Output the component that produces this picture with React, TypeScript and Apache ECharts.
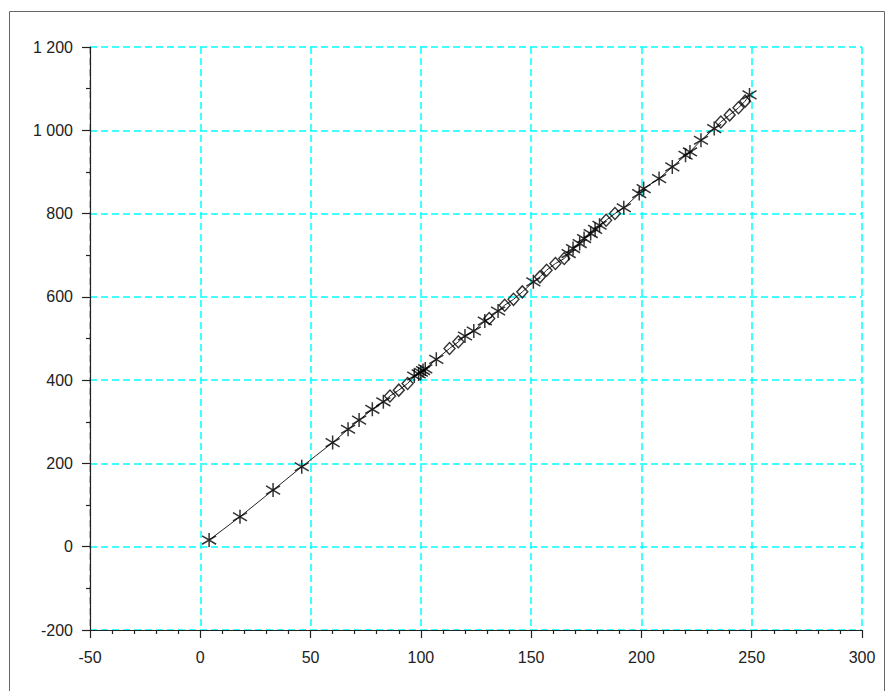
import React, { useEffect, useRef } from "react";
import * as echarts from "echarts";

// Asterisk-marked points
const starX = [4, 18, 33, 46, 60, 67, 72, 78, 83, 97, 99, 100, 101, 102, 107, 120, 124, 129, 135, 151, 167, 169, 172, 174, 177, 179, 181, 192, 199, 201, 208, 214, 220, 222, 227, 233, 249];
const starY = [16, 72, 136, 192, 250, 282, 304, 330, 348, 410, 415, 419, 423, 427, 450, 506, 518, 542, 566, 636, 704, 716, 728, 740, 752, 762, 772, 814, 848, 860, 884, 912, 940, 948, 976, 1004, 1085];

// Diamond-marked points
const diaX = [86, 90, 94, 113, 117, 131, 138, 142, 146, 154, 157, 161, 165, 184, 188, 236, 240, 244, 247];
const diaY = [362, 376, 392, 476, 492, 548, 580, 594, 612, 648, 664, 680, 692, 784, 800, 1020, 1037, 1054, 1070];

const xTicks = { min: -50, max: 300, interval: 50 };
const yTicks = { min: -200, max: 1200, interval: 200 };

const STAR = "path://M5,0 L5,10 M0,2 L10,8 M0,8 L10,2";

export default function App() {
  const ref = useRef<HTMLDivElement>(null);
  useEffect(() => {
    if (!ref.current) return;
    const chart = echarts.init(ref.current, null, { renderer: "svg" });
    const stars = starX.map((x, i) => [x, starY[i]]);
    const dias = diaX.map((x, i) => [x, diaY[i]]);
    const all = [...stars, ...dias].sort((a, b) => a[0] - b[0] || a[1] - b[1]);
    const font = { fontFamily: "Liberation Sans, Arial, sans-serif", fontSize: 16, color: "#222" };
    const split = {
      show: true,
      lineStyle: { color: "#00FFFF", type: [7, 4], width: 1.5, opacity: 1 },
    };
    chart.setOption({
      animation: false,
      backgroundColor: "#fff",
      grid: { left: 90, right: 29, top: 47, bottom: 61, containLabel: false, outerBoundsMode: "none" },
      graphic: [
        {
          type: "rect",
          shape: { x: 9.5, y: 11.5, width: 875, height: 690 },
          style: { fill: "none", stroke: "#666", lineWidth: 1 },
          silent: true,
        },
      ],
      xAxis: {
        type: "value",
        ...xTicks,
        axisLine: { show: true, onZero: false, lineStyle: { color: "#222", width: 1.2 } },
        axisTick: { show: true, length: 8, lineStyle: { color: "#222", width: 1.2 } },
        minorTick: { show: true, splitNumber: 5, length: 4, lineStyle: { color: "#222", width: 1.2 } },
        splitLine: split,
        minorSplitLine: { show: false },
        axisLabel: { ...font, margin: 19, showMinLabel: true, showMaxLabel: true },
      },
      yAxis: {
        type: "value",
        ...yTicks,
        axisLine: { show: true, onZero: false, lineStyle: { color: "#222", width: 1.2 } },
        axisTick: { show: true, length: 8, lineStyle: { color: "#222", width: 1.2 } },
        minorTick: { show: true, splitNumber: 2, length: 4, lineStyle: { color: "#222", width: 1.2 } },
        splitLine: split,
        minorSplitLine: { show: false },
        axisLabel: {
          ...font,
          margin: 17,
          formatter: (v: number) => String(v).replace(/\B(?=(\d{3})+(?!\d))/g, " "),
        },
      },
      series: [
        {
          type: "line",
          data: all,
          showSymbol: false,
          symbol: "none",
          lineStyle: { color: "#222", width: 1 },
          z: 2,
        },
        {
          type: "scatter",
          data: dias,
          symbol: "diamond",
          symbolSize: [11, 12],
          itemStyle: { color: "rgba(0,0,0,0)", borderColor: "#000", borderWidth: 1.4 },
          z: 3,
        },
        {
          type: "scatter",
          data: stars,
          symbol: STAR,
          symbolSize: [14, 14],
          itemStyle: { color: "rgba(0,0,0,0)", borderColor: "#000", borderWidth: 1.5 },
          z: 4,
        },
      ],
    });
    return () => chart.dispose();
  }, []);
  return (
    <div
      ref={ref}
      style={{ position: "absolute", left: 0, top: 0, width: 891, height: 691 }}
    />
  );
}
